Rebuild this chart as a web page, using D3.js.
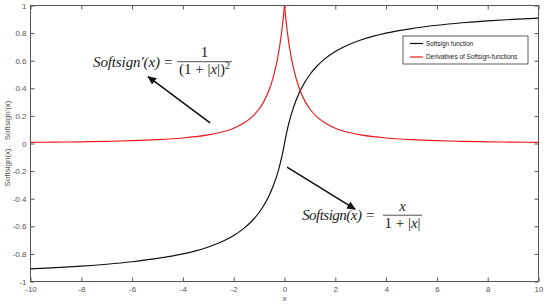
<!DOCTYPE html>
<html>
<head>
<meta charset="utf-8">
<script src="https://cdn.jsdelivr.net/npm/d3@7"></script>
<style>
  body { margin: 0; background: #fff; }
  svg { display: block; }
  .tick text { font-family: 'Liberation Sans', Arial, sans-serif; font-size: 8px; fill: #555; }
  .math { font-family: 'Liberation Serif', 'Times New Roman', serif; font-size: 15px; fill: #222; }
</style>
</head>
<body>
<svg id="chart" width="550" height="306"></svg>
<script>
// sampled x positions
const xs = [-10, -9, -8, -7, -6, -5, -4, -3.5, -3, -2.5, -2, -1.6, -1.3, -1, -0.8, -0.6, -0.45, -0.3, -0.2, -0.1, -0.05, 0,
  0.05, 0.1, 0.2, 0.3, 0.45, 0.6, 0.8, 1, 1.3, 1.6, 2, 2.5, 3, 3.5, 4, 5, 6, 7, 8, 9, 10];

// Softsign function (black)
const softsign = [-0.909, -0.9, -0.889, -0.875, -0.857, -0.833, -0.8, -0.778, -0.75, -0.714, -0.667, -0.615, -0.565, -0.5, -0.444, -0.375, -0.31, -0.231, -0.167, -0.091, -0.048, 0,
  0.048, 0.091, 0.167, 0.231, 0.31, 0.375, 0.444, 0.5, 0.565, 0.615, 0.667, 0.714, 0.75, 0.778, 0.8, 0.833, 0.857, 0.875, 0.889, 0.9, 0.909];

// derivative (red)
const derivative = [0.0083, 0.01, 0.0123, 0.0156, 0.0204, 0.0278, 0.04, 0.0494, 0.0625, 0.0816, 0.111, 0.148, 0.189, 0.25, 0.309, 0.391, 0.476, 0.592, 0.694, 0.826, 0.907, 1,
  0.907, 0.826, 0.694, 0.592, 0.476, 0.391, 0.309, 0.25, 0.189, 0.148, 0.111, 0.0816, 0.0625, 0.0494, 0.04, 0.0278, 0.0204, 0.0156, 0.0123, 0.01, 0.0083];

const xTicks = [-10, -8, -6, -4, -2, 0, 2, 4, 6, 8, 10];
const yTicks = [-1, -0.8, -0.6, -0.4, -0.2, 0, 0.2, 0.4, 0.6, 0.8, 1];

const legendItems = ['Softsign function', 'Derivatives of Softsign-functions'];
const lineColors = ['#111', '#ec1c1c'];

const svg = d3.select('#chart');
const x = d3.scaleLinear().domain([-10, 10]).range([30.5, 538.5]);
const y = d3.scaleLinear().domain([-1, 1]).range([281.5, 5.5]);

const fmt = (d) => String(+d.toFixed(1));

// axes, MATLAB style box with inward ticks
function styleAxis(g) {
  g.select('.domain').remove();
  g.selectAll('.tick line').attr('stroke', '#555');
}

svg.append('g')
  .attr('transform', `translate(0,${y(-1)})`)
  .call(d3.axisBottom(x).tickValues(xTicks).tickSize(-4).tickPadding(5).tickFormat(fmt))
  .call(styleAxis);
svg.append('g')
  .attr('transform', `translate(0,${y(1)})`)
  .call(d3.axisTop(x).tickValues(xTicks).tickSize(-4).tickFormat(''))
  .call(styleAxis);
svg.append('g')
  .attr('transform', `translate(${x(-10)},0)`)
  .call(d3.axisLeft(y).tickValues(yTicks).tickSize(-4).tickPadding(4).tickFormat(fmt))
  .call(styleAxis);
svg.append('g')
  .attr('transform', `translate(${x(10)},0)`)
  .call(d3.axisRight(y).tickValues(yTicks).tickSize(-4).tickFormat(''))
  .call(styleAxis);

// frame as one rectangle so corners meet
svg.append('rect')
  .attr('x', x(-10)).attr('y', y(1))
  .attr('width', x(10) - x(-10)).attr('height', y(-1) - y(1))
  .attr('fill', 'none').attr('stroke', '#555').attr('stroke-width', 1);

// axis titles
svg.append('text')
  .attr('x', x(0)).attr('y', 301)
  .attr('text-anchor', 'middle')
  .style('font-family', 'Liberation Sans, Arial, sans-serif')
  .style('font-size', '8px').style('fill', '#555')
  .text('x');
svg.append('text')
  .attr('transform', `translate(10,${y(0)}) rotate(-90)`)
  .attr('text-anchor', 'middle')
  .style('font-family', 'Liberation Sans, Arial, sans-serif')
  .style('font-size', '8px').style('fill', '#555')
  .text("Softsign(x)、Softsign'(x)");

// curves
const line = d3.line().x((d) => x(d[0])).y((d) => y(d[1])).curve(d3.curveMonotoneX);
const ssPts = xs.map((v, i) => [v, softsign[i]]);
const dPts = xs.map((v, i) => [v, derivative[i]]);

svg.append('path').attr('d', line(ssPts))
  .attr('fill', 'none').attr('stroke', lineColors[0]).attr('stroke-width', 1.2);
// split at the peak so the cusp stays sharp
svg.append('path').attr('d', line(dPts.filter((d) => d[0] <= 0)))
  .attr('fill', 'none').attr('stroke', lineColors[1]).attr('stroke-width', 1.2);
svg.append('path').attr('d', line(dPts.filter((d) => d[0] >= 0)))
  .attr('fill', 'none').attr('stroke', lineColors[1]).attr('stroke-width', 1.2);

// legend
const legend = svg.append('g').attr('transform', 'translate(403,36)');
legend.append('rect').attr('width', 125).attr('height', 28)
  .attr('fill', '#fff').attr('stroke', '#333').attr('stroke-width', 0.8);
legendItems.forEach((label, i) => {
  const yy = 7.5 + i * 13.5;
  legend.append('line').attr('x1', 7).attr('x2', 20).attr('y1', yy).attr('y2', yy)
    .attr('stroke', lineColors[i]).attr('stroke-width', 1.2);
  legend.append('text').attr('x', 23).attr('y', yy + 2.2)
    .style('font-family', 'Liberation Sans, Arial, sans-serif')
    .style('font-size', '6.4px').style('fill', '#222')
    .text(label);
});

// arrows
svg.append('defs').append('marker')
  .attr('id', 'head').attr('viewBox', '0 0 10 10')
  .attr('refX', 9).attr('refY', 5)
  .attr('markerWidth', 5.5).attr('markerHeight', 5.5)
  .attr('orient', 'auto')
  .append('path').attr('d', 'M0,0.5 L10,5 L0,9.5 z').attr('fill', '#111');

const arrows = [
  [[-2.93, 0.149], [-5.37, 0.484]],
  [[0.1, -0.171], [2.78, -0.476]],
];
arrows.forEach(([a, b]) => {
  svg.append('line')
    .attr('x1', x(a[0])).attr('y1', y(a[1]))
    .attr('x2', x(b[0])).attr('y2', y(b[1]))
    .attr('stroke', '#111').attr('stroke-width', 1.6)
    .attr('marker-end', 'url(#head)');
});

// formulas
function formula(px, py, lhs, lhsW, num, den, barW, barX) {
  const g = svg.append('g').attr('transform', `translate(${px},${py})`);
  g.append('text').attr('class', 'math').style('font-style', 'italic')
    .attr('textLength', lhsW).attr('lengthAdjust', 'spacing').text(lhs);
  g.append('text').attr('class', 'math').attr('x', lhsW + 4).text('=');
  const cx = barX + barW / 2;
  g.append('line').attr('x1', barX).attr('x2', barX + barW).attr('y1', -4.8).attr('y2', -4.8)
    .attr('stroke', '#222').attr('stroke-width', 0.8);
  const n = g.append('text').attr('class', 'math').attr('x', cx).attr('y', -9.5).attr('text-anchor', 'middle');
  num(n);
  const d = g.append('text').attr('class', 'math').attr('x', cx).attr('y', 7.5).attr('text-anchor', 'middle');
  den(d);
}

formula(93, 66.5, 'Softsign′(x)', 67,
  (t) => t.text('1'),
  (t) => {
    t.append('tspan').text('(1 + |');
    t.append('tspan').style('font-style', 'italic').text('x');
    t.append('tspan').text('|)');
    t.append('tspan').attr('dy', -5).style('font-size', '10px').text('2');
  },
  55, 84);

formula(302, 220, 'Softsign(x)', 60,
  (t) => t.append('tspan').style('font-style', 'italic').text('x'),
  (t) => {
    t.append('tspan').text('1 + |');
    t.append('tspan').style('font-style', 'italic').text('x');
    t.append('tspan').text('|');
  },
  39, 81);
</script>
</body>
</html>
